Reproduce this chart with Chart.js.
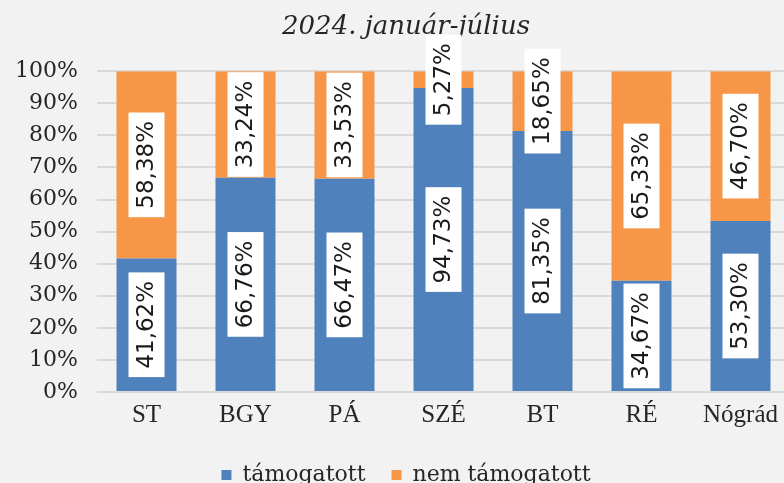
<!DOCTYPE html>
<html>
<head>
<meta charset="utf-8">
<script src="https://cdn.jsdelivr.net/npm/chart.js@4/dist/chart.umd.min.js"></script>
<style>
  html, body { margin: 0; padding: 0; background: #f2f2f2; overflow: hidden; }
  .wrap { width: 816px; height: 483px; position: relative; }
</style>
</head>
<body>
<div class="wrap"><canvas id="chart"></canvas></div>
<script>
// data
const categories = ['ST', 'BGY', 'PÁ', 'SZÉ', 'BT', 'RÉ', 'Nógrád'];
const supported = [41.62, 66.76, 66.47, 94.73, 81.35, 34.67, 53.30];
const notSupported = [58.38, 33.24, 33.53, 5.27, 18.65, 65.33, 46.70];
const yTicks = [0, 10, 20, 30, 40, 50, 60, 70, 80, 90, 100];

const BLUE = '#4f81bd';
const ORANGE = '#f79646';
const TEXT = '#262626';

function fmt(v) {
    return v.toFixed(2).replace('.', ',') + '%';
}

// rotated value labels in white boxes, centred on each segment
const boxLabels = {
    id: 'boxLabels',
    afterDatasetsDraw(chart) {
        const ctx = chart.ctx;
        ctx.save();
        ctx.font = '23px "DejaVu Sans"';
        ctx.textAlign = 'center';
        ctx.textBaseline = 'middle';
        chart.data.datasets.forEach((ds, di) => {
            const meta = chart.getDatasetMeta(di);
            meta.data.forEach((bar, i) => {
                const text = fmt(ds.data[i]);
                const w = ctx.measureText(text).width + 17;
                const h = 36;
                const cy = (bar.y + bar.base) / 2;
                ctx.save();
                ctx.translate(bar.x, cy);
                ctx.rotate(-Math.PI / 2);
                ctx.fillStyle = '#ffffff';
                ctx.fillRect(-w / 2, -h / 2, w, h);
                ctx.fillStyle = '#1a1a1a';
                ctx.fillText(text, 0, 1);
                ctx.restore();
            });
        });
        ctx.restore();
    }
};

new Chart(document.getElementById('chart'), {
    type: 'bar',
    data: {
        labels: categories,
        datasets: [{
            label: 'támogatott',
            data: supported,
            backgroundColor: BLUE,
            borderWidth: 0
        }, {
            label: 'nem támogatott',
            data: notSupported,
            backgroundColor: ORANGE,
            borderWidth: 0
        }]
    },
    options: {
        responsive: true,
        maintainAspectRatio: false,
        animation: false,
        events: [],
        categoryPercentage: 1,
        barPercentage: 0.606,
        layout: { padding: { left: 0, right: 4, top: 0, bottom: -13 } },
        plugins: {
            title: {
                display: true,
                text: '2024. január-július',
                color: TEXT,
                font: { family: 'DejaVu Serif', style: 'italic', size: 26, weight: 'normal' },
                padding: { top: 12, bottom: 28 }
            },
            legend: {
                position: 'bottom',
                labels: {
                    color: TEXT,
                    boxWidth: 10,
                    boxHeight: 10,
                    padding: 26,
                    font: { family: 'DejaVu Serif', size: 22 }
                }
            },
            tooltip: { enabled: false }
        },
        scales: {
            x: {
                stacked: true,
                grid: { display: false, drawTicks: false },
                border: { display: false },
                ticks: {
                    color: TEXT,
                    padding: 8,
                    font: { family: 'Liberation Serif', size: 25 }
                }
            },
            y: {
                stacked: true,
                min: 0,
                max: 100,
                afterFit(scale) { scale.width = 97; },
                afterBuildTicks(scale) { scale.ticks = yTicks.map(v => ({ value: v })); },
                grid: { color: '#d9d9d9', lineWidth: 2, drawTicks: false },
                border: { display: false },
                ticks: {
                    color: TEXT,
                    padding: 19,
                    font: { family: 'DejaVu Serif', size: 22 },
                    callback: v => v + '%'
                }
            },
            // empty right-hand axis, only reserves the space the original keeps there
            spacer: {
                type: 'linear',
                position: 'right',
                afterFit(scale) { scale.width = 22; },
                grid: { display: false },
                border: { display: false },
                ticks: { display: false }
            }
        }
    },
    plugins: [boxLabels]
});
</script>
</body>
</html>
